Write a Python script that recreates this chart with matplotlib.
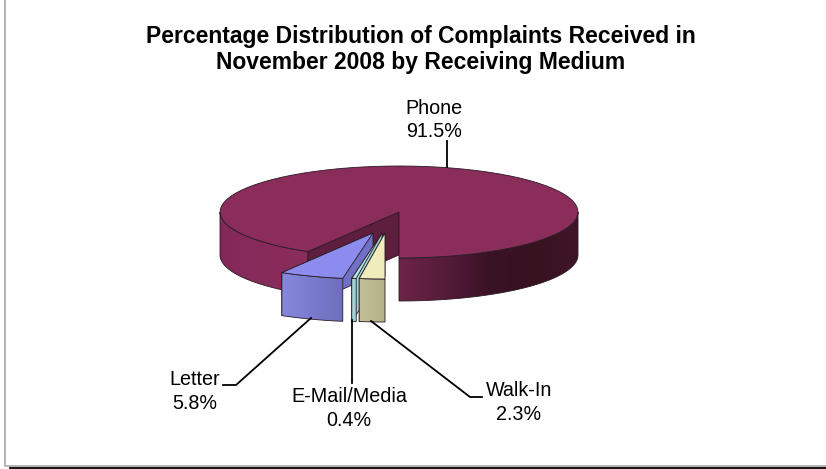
import numpy as np
import matplotlib
matplotlib.use('Agg')
from matplotlib import pyplot as plt
from matplotlib.colors import LinearSegmentedColormap
from matplotlib.patches import Polygon

plt.rcParams['font.family'] = ['Liberation Sans', 'DejaVu Sans']

# slices in clockwise order starting from 6 o'clock
mediums = ['Walk-In', 'E-Mail/Media', 'Letter', 'Phone']
shares = [2.3, 0.4, 5.8, 91.5]

title = 'Percentage Distribution of Complaints Received in\nNovember 2008 by Receiving Medium'

# pie geometry in pixels
cx, cy = 399, 212
rx, ry = 179, 46
depth = 43
edge = '#2a1a24'

# how far the small slices are pulled out of the pie
pull_x = [-14, -17, -26, 0]
pull_y = [21, 21, 21, 0]

top_colors = ['#f0ecbc', '#b2e2e2', '#8c8cee', '#8b2d5b']
side_colors = ['#bdbb92', '#a0d6d6', '#7070c4', '#5e1e3e']
wall_stops = [['#c2c09a', '#b4b288'],
              ['#a6dcdc', '#98cccc'],
              ['#8787de', '#6e6ebc'],
              ['#83295a', '#8b2d5b']]
right_wall_stops = ['#6c2448', '#561c39', '#3a1226', '#38121f', '#3f1629']

# label text centre, and leader line per slice
label_xy = [(519, 402.5), (349, 408.5), (195, 391.5), (434, 120)]
leaders = [[(371, 321), (470, 397), (482, 397)],
           [(352, 320), (352, 383)],
           [(311, 318), (236, 385), (223, 385)],
           [(447, 167), (447, 141)]]


def arc(a0, a1, ox, oy, drop=0, n=80):
    t = np.radians(np.linspace(a0, a1, n))
    return np.column_stack([cx + ox + rx * np.cos(t), cy + oy - ry * np.sin(t) + drop])


def gradient_wall(ax, pts, colors, z):
    poly = Polygon(pts, closed=True, fc='none', ec=edge, lw=0.6, zorder=z + 0.1)
    ax.add_patch(poly)
    cmap = LinearSegmentedColormap.from_list('wall', colors)
    x0, x1 = pts[:, 0].min(), pts[:, 0].max()
    y0, y1 = pts[:, 1].min(), pts[:, 1].max()
    im = ax.imshow(np.linspace(0, 1, 256)[None, :], cmap=cmap, extent=(x0, x1, y1, y0),
                   aspect='auto', zorder=z, interpolation='bilinear')
    im.set_clip_path(poly)


def outer_wall(ax, a0, a1, ox, oy, colors, z):
    pts = np.vstack([arc(a0, a1, ox, oy), arc(a1, a0, ox, oy, depth)])
    gradient_wall(ax, pts, colors, z)


def radial_wall(ax, a, ox, oy, color, z):
    outer = arc(a, a, ox, oy, n=1)[0]
    apex = np.array([cx + ox, cy + oy])
    pts = [apex, outer, outer + [0, depth], apex + [0, depth]]
    ax.add_patch(Polygon(pts, closed=True, fc=color, ec=edge, lw=0.6, zorder=z))


def top_face(ax, a0, a1, ox, oy, color, z):
    pts = np.vstack([[cx + ox, cy + oy], arc(a0, a1, ox, oy)])
    ax.add_patch(Polygon(pts, closed=True, fc=color, ec=edge, lw=0.6, zorder=z))


fig = plt.figure(figsize=(8.26, 4.69), dpi=100)
ax = fig.add_axes([0, 0, 1, 1])

# slice angles, running clockwise from 270 degrees
sweep = np.array(shares) * 3.6
ends = 270 - np.cumsum(sweep)
starts = ends + sweep

# phone slice: walls first, then inner cut and top
outer_wall(ax, 180, starts[3], 0, 0, wall_stops[3], 1)
outer_wall(ax, 270, 360, 0, 0, right_wall_stops, 1)
radial_wall(ax, starts[3], 0, 0, side_colors[3], 2)
top_face(ax, ends[3], starts[3], 0, 0, top_colors[3], 3)

# pulled out slices, back to front
for i, z in zip([2, 1, 0], [4, 6, 8]):
    ox, oy = pull_x[i], pull_y[i]
    radial_wall(ax, ends[i], ox, oy, side_colors[i], z)
    outer_wall(ax, ends[i], starts[i], ox, oy, wall_stops[i], z + 0.3)
    top_face(ax, ends[i], starts[i], ox, oy, top_colors[i], z + 0.6)

# leader lines and labels
for name, val, xy, line in zip(mediums, shares, label_xy, leaders):
    xs, ys = zip(*line)
    ax.plot(xs, ys, color='black', lw=1.3, zorder=10, solid_joinstyle='miter')
    ax.text(xy[0], xy[1], f'{name}\n{val}%', ha='center', va='center',
            fontsize=14.2, linespacing=1.3, color='black', zorder=11)

ax.text(421, 49.5, title, ha='center', va='center', fontsize=16.5,
        fontweight='bold', linespacing=1.14, color='black')

# outer frame: grey on the left and bottom, black rule under it
ax.plot([4.5, 4.5, 826], [0, 465.7, 465.7], color='#a6a6a6', lw=1.2)
ax.plot([10, 826], [467.7, 467.7], color='black', lw=1.3)

ax.set_xlim(0, 826)
ax.set_ylim(469, 0)
ax.axis('off')

fig.savefig('out.png', dpi=100)
